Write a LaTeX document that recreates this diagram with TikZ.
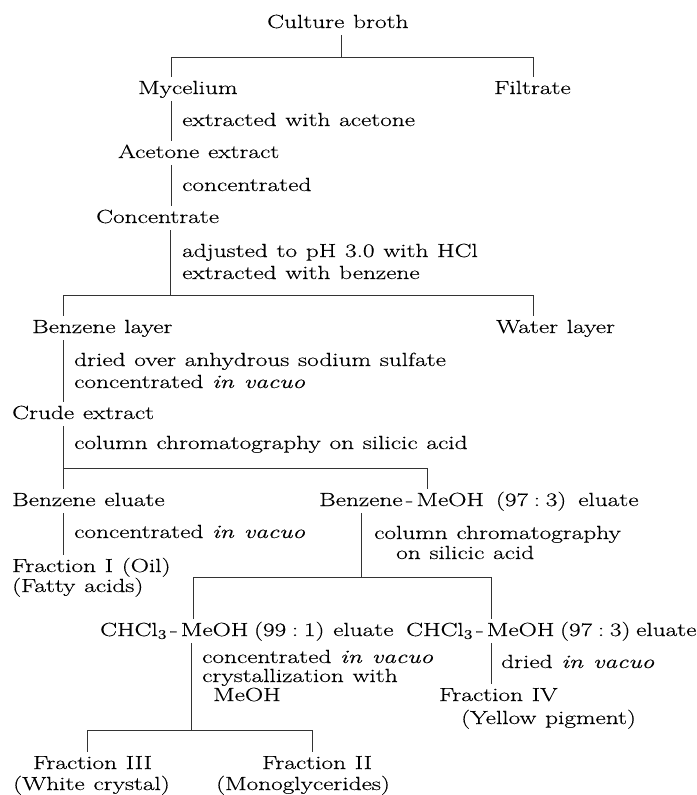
\documentclass[tikz,border=0pt]{standalone}
\usepackage{fontspec}
\setmainfont{Latin Modern Roman}[FakeStretch=1.33, WordSpace=1.15, FakeBold=0.4]
\newcommand\csp{\hspace{0.3em}}
\tikzset{
  lbl/.style={anchor=base west, inner xsep=0pt, inner ysep=3pt,
    text height=14pt, text depth=4pt, font=\fontsize{19}{22}\selectfont},
  conn/.style={line width=0.9pt, draw=black!80},
}
\begin{document}
\begin{tikzpicture}[x=1pt,y=-1pt]
\useasboundingbox (0,0) rectangle (696,795);
% nodes
\node[lbl] (broth) at (267,28) {Culture broth};
\node[lbl] (myc) at (138,94) {Mycelium};
\node[lbl] (filt) at (494,94) {Filtrate};
\node[lbl] (s1) at (182,126) {extracted with acetone};
\node[lbl] (acx) at (118,158) {Acetone extract};
\node[lbl] (s2) at (182,191) {concentrated};
\node[lbl] (conc) at (96,223) {Concentrate};
\node[lbl] (s3a) at (182,257) {adjusted to pH 3.0 with HCl};
\node[lbl] (s3b) at (182,279) {extracted with benzene};
\node[lbl] (benz) at (32,333) {Benzene layer};
\node[lbl] (water) at (496,333) {Water layer};
\node[lbl] (s4a) at (74,366) {dried over anhydrous sodium sulfate};
\node[lbl] (s4b) at (74,388) {concentrated \textit{in vacuo}};
\node[lbl] (crude) at (12,419) {Crude extract};
\node[lbl] (s5) at (74,449) {column chromatography on silicic acid};
\node[lbl] (bel) at (12,506) {Benzene eluate};
\node[lbl] (bmel) at (319,506) {Benzene\,-\,MeOH \,(97\csp:\csp3) \,eluate};
\node[lbl] (s6) at (74,538) {concentrated \textit{in vacuo}};
\node[lbl] (s7a) at (374,539) {column chromatography};
\node[lbl] (s7b) at (396,559) {on silicic acid};
\node[lbl] (fr1) at (12,572) {Fraction I (Oil)};
\node[lbl] (fr1b) at (12,592) {(Fatty acids)};
\node[lbl] (c991) at (100,636) {CHCl\textsubscript{3}\,-\,MeOH\csp(99\csp:\csp1) eluate};
\node[lbl] (c973) at (406,636) {CHCl\textsubscript{3}\,-\,MeOH\csp(97\csp:\csp3)\csp eluate};
\node[lbl] (s8a) at (202,663) {concentrated \textit{in vacuo}};
\node[lbl] (s8b) at (202,682) {crystallization with};
\node[lbl] (s8c) at (213,701) {MeOH};
\node[lbl] (s9) at (501,668) {dried \textit{in vacuo}};
\node[lbl] (fr4) at (439,701) {Fraction IV};
\node[lbl] (fr4b) at (461,724) {(Yellow pigment)};
\node[lbl] (fr3) at (33,769) {Fraction III};
\node[lbl] (fr3b) at (13,790) {(White crystal)};
\node[lbl] (fr2) at (262,769) {Fraction II};
\node[lbl] (fr2b) at (216,790) {(Monoglycerides)};
% branch points
\coordinate (h1m) at (341,57);
\coordinate (h1L) at (171,57);
\coordinate (h1R) at (533,57);
\coordinate (h2m) at (170,295);
\coordinate (h2L) at (63,295);
\coordinate (h2R) at (533,295);
\coordinate (h3L) at (63,468);
\coordinate (h3R) at (427,468);
\coordinate (h4m) at (361,577);
\coordinate (h4L) at (193,577);
\coordinate (h4R) at (491,577);
\coordinate (h5m) at (191,730);
\coordinate (h5L) at (87,730);
\coordinate (h5R) at (312,730);
% connectors
\draw[conn] (broth.south -| h1m) -- (h1m);
\draw[conn] (h1L) -- (h1R);
\draw[conn] (h1L) -- (myc.north -| h1L);
\draw[conn] (h1R) -- (filt.north -| h1R);
\draw[conn] (myc.south -| h1L) -- (acx.north -| h1L);
\draw[conn] (acx.south -| h1L) -- (conc.north -| h1L);
\draw[conn] (conc.south -| h2m) -- (h2m);
\draw[conn] (h2L) -- (h2R);
\draw[conn] (h2L) -- (benz.north -| h2L);
\draw[conn] (h2R) -- (water.north -| h2R);
\draw[conn] (benz.south -| h2L) -- (crude.north -| h2L);
\draw[conn] (crude.south -| h3L) -- (bel.north -| h3L);
\draw[conn] (h3L) -- (h3R) -- (bmel.north -| h3R);
\draw[conn] (bel.south -| h3L) -- (fr1.north -| h3L);
\draw[conn] (bmel.south -| h4m) -- (h4m);
\draw[conn] (h4L) -- (h4R);
\draw[conn] (h4L) -- (c991.north -| h4L);
\draw[conn] (h4R) -- (c973.north -| h4R);
\draw[conn] (c991.south -| h5m) -- (h5m);
\draw[conn] (h5L) -- (h5R);
\draw[conn] (h5L) -- (fr3.north -| h5L);
\draw[conn] (h5R) -- (fr2.north -| h5R);
\draw[conn] (c973.south -| h4R) -- (fr4.north -| h4R);
\end{tikzpicture}
\end{document}
